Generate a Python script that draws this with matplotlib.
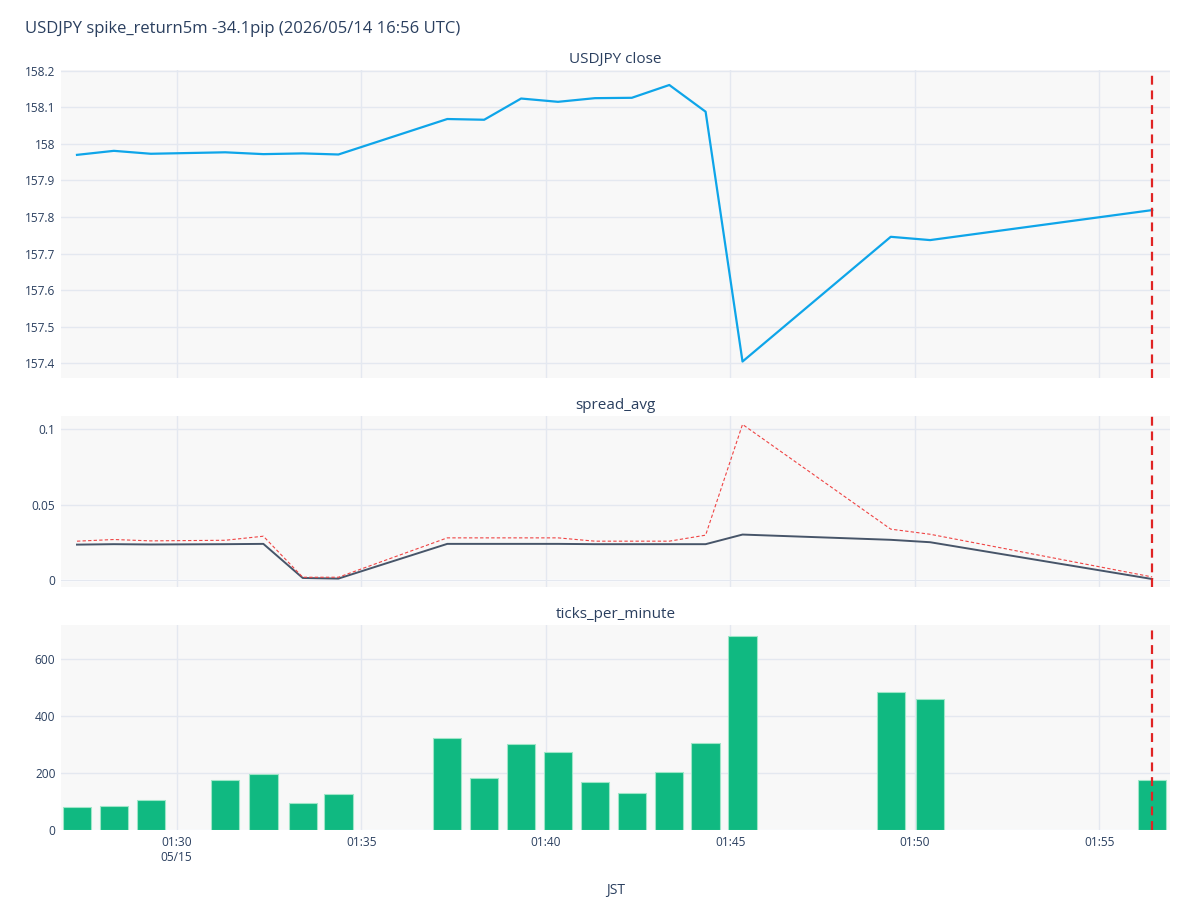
import matplotlib.pyplot as plt
import matplotlib.dates as mdates
import matplotlib.ticker as mticker
import pandas as pd

plt.rcParams['font.family'] = ['Open Sans', 'DejaVu Sans']

# minute rows (JST)
times = ["01:27:18", "01:28:18", "01:29:18", "01:31:19", "01:32:21", "01:33:25",
         "01:34:23", "01:37:20", "01:38:20", "01:39:20", "01:40:20", "01:41:20",
         "01:42:20", "01:43:21", "01:44:20", "01:45:20", "01:49:21", "01:50:25",
         "01:56:26"]
close = [157.970, 157.981, 157.973, 157.977, 157.972, 157.974, 157.971, 158.068,
         158.066, 158.124, 158.115, 158.125, 158.126, 158.161, 158.088, 157.405,
         157.746, 157.737, 157.819]
spread_avg = [0.0233, 0.0236, 0.0234, 0.0236, 0.0238, 0.0011, 0.0007, 0.0238,
              0.0238, 0.0238, 0.0238, 0.0236, 0.0236, 0.0236, 0.0236, 0.0300,
              0.0265, 0.0249, 0.0004]
spread_max = [0.0256, 0.0267, 0.0258, 0.0262, 0.0289, 0.0016, 0.0016, 0.0278,
              0.0278, 0.0278, 0.0278, 0.0256, 0.0256, 0.0256, 0.0296, 0.1033,
              0.0336, 0.0302, 0.0018]
ticks = [80, 83, 104, 176, 195, 94, 127, 321, 181, 301, 274, 169, 129, 202, 303,
         681, 485, 458, 175]
spike_time = "01:56:26"

t = pd.to_datetime(["2026-05-15 " + s for s in times])
spike = pd.Timestamp("2026-05-15 " + spike_time)

txt = '#2a3f5f'
grid = '#e4e8f0'
bg = '#f8f8f8'

fig = plt.figure(figsize=(12, 9), dpi=100)
left, width = 61 / 1200, 1109 / 1200
ax1 = fig.add_axes([left, 1 - 378 / 900, width, 308 / 900])
ax2 = fig.add_axes([left, 1 - 587 / 900, width, 171 / 900], sharex=ax1)
ax3 = fig.add_axes([left, 1 - 830 / 900, width, 205 / 900], sharex=ax1)

ax1.plot(t, close, color='#0ea5e9', lw=1.6, zorder=3)
ax2.plot(t, spread_avg, color='#475569', lw=1.4, zorder=3)
ax2.plot(t, spread_max, color='#ef4444', lw=0.8, dashes=(3, 2), zorder=3)
ax3.bar(t, ticks, width=46 / 86400, color='#10b981', edgecolor='#9ee6c8',
        linewidth=0.8, zorder=3)

for ax, title in [(ax1, "USDJPY close"), (ax2, "spread_avg"), (ax3, "ticks_per_minute")]:
    ax.set_facecolor(bg)
    for s in ax.spines.values():
        s.set_visible(False)
    ax.grid(True, color=grid, lw=1, zorder=0)
    ax.tick_params(length=0, colors=txt, labelsize=8.6, pad=4)
    ax.set_title(title, fontsize=11, color=txt, pad=5)
    ax.axvline(spike, color='#e02424', lw=1.6, dashes=(4, 2.6), zorder=4)

ax2.axhline(0, color='white', lw=2, zorder=1)
ax3.axhline(0, color='white', lw=2, zorder=1)

ax1.set_xlim(t[0] - pd.Timedelta(seconds=26), t[-1] + pd.Timedelta(seconds=29))
ax1.set_ylim(157.36, 158.202)
ax1.set_yticks([157.4, 157.5, 157.6, 157.7, 157.8, 157.9, 158.0, 158.1, 158.2])
ax1.yaxis.set_major_formatter(mticker.FuncFormatter(lambda v, p: f"{v:g}"))
ax2.set_ylim(-0.0049, 0.1089)
ax2.set_yticks([0, 0.05, 0.1])
ax2.yaxis.set_major_formatter(mticker.FuncFormatter(lambda v, p: f"{v:g}"))
ax3.set_ylim(0, 718)
ax3.set_yticks([0, 200, 400, 600])

ax3.xaxis.set_major_locator(mdates.MinuteLocator(byminute=range(0, 60, 5)))


def fmt(v, pos):
    d = mdates.num2date(v)
    s = d.strftime("%H:%M")
    if pos == 0:
        s += "\n" + d.strftime("%m/%d")
    return s


ax3.xaxis.set_major_formatter(mticker.FuncFormatter(fmt))
plt.setp(ax1.get_xticklabels(), visible=False)
plt.setp(ax2.get_xticklabels(), visible=False)
ax3.set_xlabel("JST", fontsize=10, color=txt, labelpad=14)

fig.text(25 / 1200, 1 - 29 / 900, "USDJPY spike_return5m -34.1pip (2026/05/14 16:56 UTC)",
         fontsize=12, color=txt, va='center', ha='left')

fig.savefig("out.png", dpi=100, facecolor='white')
